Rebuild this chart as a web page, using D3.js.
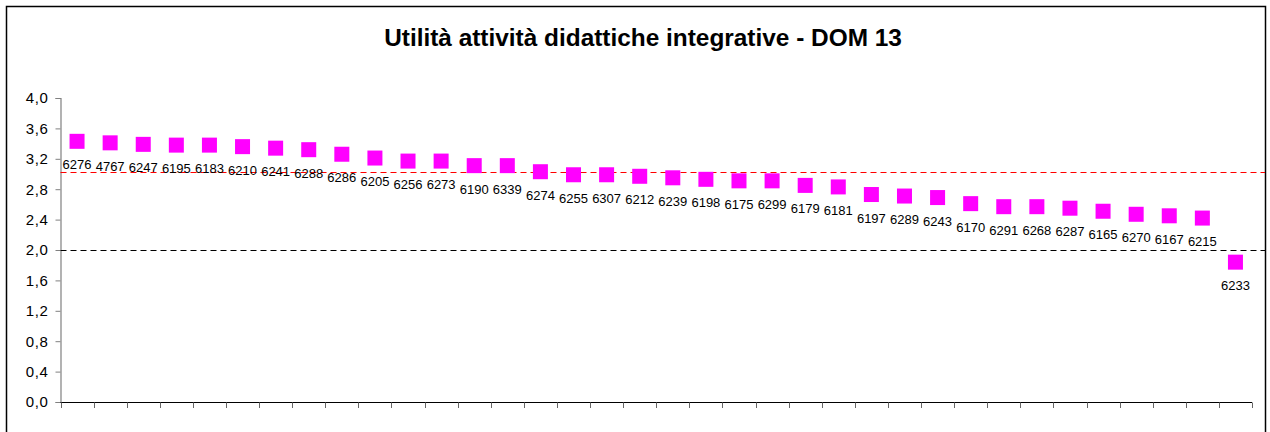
<!DOCTYPE html>
<meta charset="utf-8">
<style>
body { margin: 0; background: #fff; }
text { font-family: Arial, "Liberation Sans", sans-serif; }
</style>
<svg width="1270" height="432"></svg>
<script src="https://d3js.org/d3.v7.min.js"></script>
<script>

var codes = ["6276","4767","6247","6195","6183","6210","6241","6288","6286","6205","6256","6273",
             "6190","6339","6274","6255","6307","6212","6239","6198","6175","6299","6179","6181",
             "6197","6289","6243","6170","6291","6268","6287","6165","6270","6167","6215","6233"];

var values = [3.43,3.41,3.39,3.38,3.38,3.36,3.34,3.32,3.26,3.21,3.17,3.17,
              3.11,3.11,3.03,2.99,2.99,2.97,2.95,2.93,2.91,2.91,2.85,2.83,
              2.73,2.71,2.69,2.61,2.57,2.57,2.55,2.51,2.47,2.45,2.42,1.84];

var yTicks = [0, 0.4, 0.8, 1.2, 1.6, 2.0, 2.4, 2.8, 3.2, 3.6, 4.0];

var refRed = 3.02,
    refBlack = 2.0;

var svg = d3.select("svg"),
    width = +svg.attr("width"),
    height = +svg.attr("height");

// outer frame
svg.append("rect")
    .attr("x", 6.5).attr("y", 6.5)
    .attr("width", 1259).attr("height", 440)
    .attr("fill", "none")
    .attr("stroke", "#000")
    .attr("stroke-width", 1.5);

svg.append("text")
    .attr("x", 643)
    .attr("y", 46)
    .attr("text-anchor", "middle")
    .attr("font-size", "24.4px")
    .attr("font-weight", "bold")
    .text("Utilità attività didattiche integrative - DOM 13");

var x = d3.scaleBand()
    .domain(codes)
    .range([60.5, 1252]);

var y = d3.scaleLinear()
    .domain([0, 4])
    .range([402, 98]);

var fmt = function(d) { return d3.format(".1f")(d).replace(".", ","); };

// y axis
var yAxis = svg.append("g")
    .attr("transform", "translate(60.5,0)")
    .call(d3.axisLeft(y).tickValues(yTicks).tickFormat(fmt).tickSize(5).tickPadding(7));
yAxis.select(".domain").attr("stroke", "#808080").attr("stroke-width", 1.2);
yAxis.selectAll(".tick line").attr("stroke", "#808080");
yAxis.selectAll("text").attr("font-size", "15px").attr("fill", "#000")
    .attr("letter-spacing", "0.6px")
    .style("font-family", "Arial, 'Liberation Sans', sans-serif");

// x axis with ticks between categories
var bounds = codes.map(function(c) { return x(c); }).concat([x.range()[1]]);
svg.append("line")
    .attr("x1", 60.5).attr("x2", 1252)
    .attr("y1", 402.5).attr("y2", 402.5)
    .attr("stroke", "#000").attr("stroke-width", 1.2);
svg.selectAll(".xtick")
    .data(bounds)
    .enter().append("line")
    .attr("class", "xtick")
    .attr("x1", function(d) { return Math.round(d) + 0.5; })
    .attr("x2", function(d) { return Math.round(d) + 0.5; })
    .attr("y1", 402.5).attr("y2", 408)
    .attr("stroke", "#666");

// reference lines
svg.append("line")
    .attr("x1", 60.5).attr("x2", 1265)
    .attr("y1", Math.round(y(refRed)) + 0.5).attr("y2", Math.round(y(refRed)) + 0.5)
    .attr("stroke", "#ff0000").attr("stroke-width", 1)
    .attr("stroke-dasharray", "6,4");
svg.append("line")
    .attr("x1", 60.5).attr("x2", 1265)
    .attr("y1", Math.round(y(refBlack)) + 0.5).attr("y2", Math.round(y(refBlack)) + 0.5)
    .attr("stroke", "#000").attr("stroke-width", 1)
    .attr("stroke-dasharray", "6,4");

var sq = 15;
var pts = svg.selectAll(".pt")
    .data(values)
    .enter().append("g")
    .attr("class", "pt");

pts.append("rect")
    .attr("x", function(d, i) { return x(codes[i]) + x.bandwidth() / 2 - sq / 2; })
    .attr("y", function(d) { return y(d) - sq / 2; })
    .attr("width", sq).attr("height", sq)
    .attr("fill", "#ff00ff");

pts.append("text")
    .attr("x", function(d, i) { return x(codes[i]) + x.bandwidth() / 2; })
    .attr("y", function(d) { return y(d) + 28; })
    .attr("text-anchor", "middle")
    .attr("font-size", "13px")
    .text(function(d, i) { return codes[i]; });

</script>
